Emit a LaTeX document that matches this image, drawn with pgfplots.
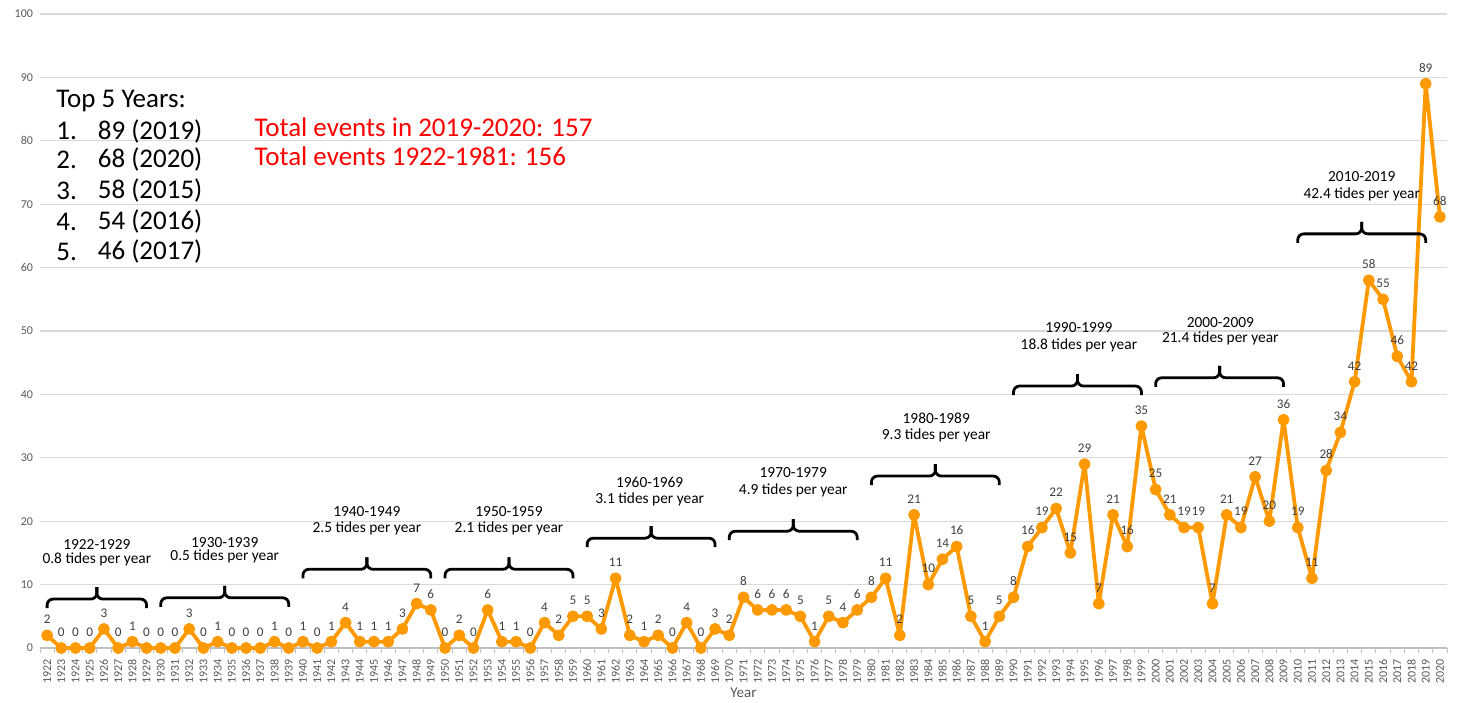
\documentclass[border=0pt]{standalone}
\usepackage{pgfplots}
\pgfplotsset{compat=1.18}
\usepackage{fontspec}
\setmainfont{Carlito}
\definecolor{lineor}{RGB}{255,153,0}
\definecolor{gridc}{RGB}{217,217,217}
\definecolor{axisc}{RGB}{191,191,191}
\definecolor{tickc}{RGB}{89,89,89}
\definecolor{lblc}{RGB}{64,64,64}
\definecolor{redt}{RGB}{255,0,0}

\pgfplotstableread{
year val
1922 2
1923 0
1924 0
1925 0
1926 3
1927 0
1928 1
1929 0
1930 0
1931 0
1932 3
1933 0
1934 1
1935 0
1936 0
1937 0
1938 1
1939 0
1940 1
1941 0
1942 1
1943 4
1944 1
1945 1
1946 1
1947 3
1948 7
1949 6
1950 0
1951 2
1952 0
1953 6
1954 1
1955 1
1956 0
1957 4
1958 2
1959 5
1960 5
1961 3
1962 11
1963 2
1964 1
1965 2
1966 0
1967 4
1968 0
1969 3
1970 2
1971 8
1972 6
1973 6
1974 6
1975 5
1976 1
1977 5
1978 4
1979 6
1980 8
1981 11
1982 2
1983 21
1984 10
1985 14
1986 16
1987 5
1988 1
1989 5
1990 8
1991 16
1992 19
1993 22
1994 15
1995 29
1996 7
1997 21
1998 16
1999 35
2000 25
2001 21
2002 19
2003 19
2004 7
2005 21
2006 19
2007 27
2008 20
2009 36
2010 19
2011 11
2012 28
2013 34
2014 42
2015 58
2016 55
2017 46
2018 42
2019 89
2020 68
}\tides

% bracket: #1 left year, #2 middle, #3 right year, #4 y of ends
\newcommand{\xbrace}[4]{%
  \draw[line width=1.4pt, rounded corners=3pt, black]
    (axis cs:#1,#4) |- ([yshift=4.5pt]axis cs:#2,#4) -- ([yshift=10.5pt]axis cs:#2,#4);
  \draw[line width=1.4pt, rounded corners=3pt, black]
    (axis cs:#3,#4) |- ([yshift=4.5pt]axis cs:#2,#4) -- ([yshift=10.5pt]axis cs:#2,#4);
}

\begin{document}
\begin{tikzpicture}
\useasboundingbox (-20pt,-27pt) rectangle (710pt,324pt);
\begin{axis}[
  at={(0,0)}, anchor=south west,
  scale only axis, width=703.5pt, height=317pt,
  xmin=1921.5, xmax=2020.5, ymin=0, ymax=100,
  xtick=data, ytick={0,10,...,100},
  minor xtick={1921.5,1922.5,...,2020.5},
  axis x line*=bottom, axis y line*=left,
  y axis line style={draw=none},
  x axis line style={draw=axisc, line width=0.6pt},
  ymajorgrids, grid style={draw=gridc, line width=0.6pt},
  major tick length=0pt, minor tick length=2.5pt, tick align=outside,
  tick style={draw=axisc, line width=0.5pt},
  /pgf/number format/1000 sep={},
  /pgf/number format/assume math mode=true,
  xticklabel style={rotate=90, anchor=east, font=\fontsize{6}{7}\selectfont, text=tickc, xshift=-2pt,
    /pgf/number format/fixed, /pgf/number format/precision=0},
  yticklabel style={font=\fontsize{6}{7}\selectfont, text=tickc},
  clip=false,
]
\addplot[lineor, line width=1.9pt, line join=round, line cap=round, mark=*, mark size=2pt,
  mark options={fill=lineor, draw=lineor},
  nodes near coords,
  every node near coord/.style={font=\fontsize{6.6}{7.6}\selectfont, text=lblc, anchor=south, yshift=1.5pt}]
  table[x=year, y=val] {\tides};

\node[font=\fontsize{7.5}{9}\selectfont, text=tickc] at ([yshift=-22.5pt]rel axis cs:0.5,0) {Year};

% brackets
\xbrace{1922}{1925.5}{1929}{6.3}
\xbrace{1930}{1934.5}{1939}{6.5}
\xbrace{1940}{1944.5}{1949}{11.0}
\xbrace{1950}{1954.5}{1959}{11.0}
\xbrace{1960}{1964.5}{1969}{15.9}
\xbrace{1970}{1974.5}{1979}{17.0}
\xbrace{1980}{1984.5}{1989}{25.7}
\xbrace{1990}{1994.5}{1999}{39.9}
\xbrace{2000}{2004.5}{2009}{41.2}
\xbrace{2010}{2014.5}{2019}{63.9}

\tikzset{ann/.style={font=\fontsize{7.7}{9}\selectfont, inner sep=0pt, black}}
\node[ann] at (axis cs:1925.5,16.4) {1922-1929};
\node[ann] at (axis cs:1925.5,13.9) {0.8 tides per year};
\node[ann] at (axis cs:1934.5,16.7) {1930-1939};
\node[ann] at (axis cs:1934.5,14.4) {0.5 tides per year};
\node[ann] at (axis cs:1944.5,21.5) {1940-1949};
\node[ann] at (axis cs:1944.5,18.9) {2.5 tides per year};
\node[ann] at (axis cs:1954.5,21.5) {1950-1959};
\node[ann] at (axis cs:1954.5,18.9) {2.1 tides per year};
\node[ann] at (axis cs:1964.4,26.2) {1960-1969};
\node[ann] at (axis cs:1964.4,23.5) {3.1 tides per year};
\node[ann] at (axis cs:1974.5,27.6) {1970-1979};
\node[ann] at (axis cs:1974.5,24.8) {4.9 tides per year};
\node[ann] at (axis cs:1984.56,36.3) {1980-1989};
\node[ann] at (axis cs:1984.56,33.6) {9.3 tides per year};
\node[ann] at (axis cs:1994.6,50.5) {1990-1999};
\node[ann] at (axis cs:1994.6,47.7) {18.8 tides per year};
\node[ann] at (axis cs:2004.55,51.4) {2000-2009};
\node[ann] at (axis cs:2004.55,48.9) {21.4 tides per year};
\node[ann] at (axis cs:2014.5,74.3) {2010-2019};
\node[ann] at (axis cs:2014.5,71.6) {42.4 tides per year};

% top 5 text
\tikzset{big/.style={font=\fontsize{13.5}{15}\selectfont, inner sep=0pt, anchor=west, black}}
\node[big] at (axis cs:1922.63,86.2) {Top 5 Years:};
\node[big] at (axis cs:1922.63,81.5) {1.};
\node[big] at (axis cs:1925.54,81.5) {89 (2019)};
\node[big] at (axis cs:1922.63,77.0) {2.};
\node[big] at (axis cs:1925.54,77.0) {68 (2020)};
\node[big] at (axis cs:1922.63,72.1) {3.};
\node[big] at (axis cs:1925.54,72.1) {58 (2015)};
\node[big] at (axis cs:1922.63,67.2) {4.};
\node[big] at (axis cs:1925.54,67.2) {54 (2016)};
\node[big] at (axis cs:1922.63,62.5) {5.};
\node[big] at (axis cs:1925.54,62.5) {46 (2017)};
\node[big, text=redt] at (axis cs:1936.57,82.2) {Total events in 2019-2020: 157};
\node[big, text=redt] at (axis cs:1936.57,77.6) {Total events 1922-1981: 156};
\end{axis}
\end{tikzpicture}
\end{document}
